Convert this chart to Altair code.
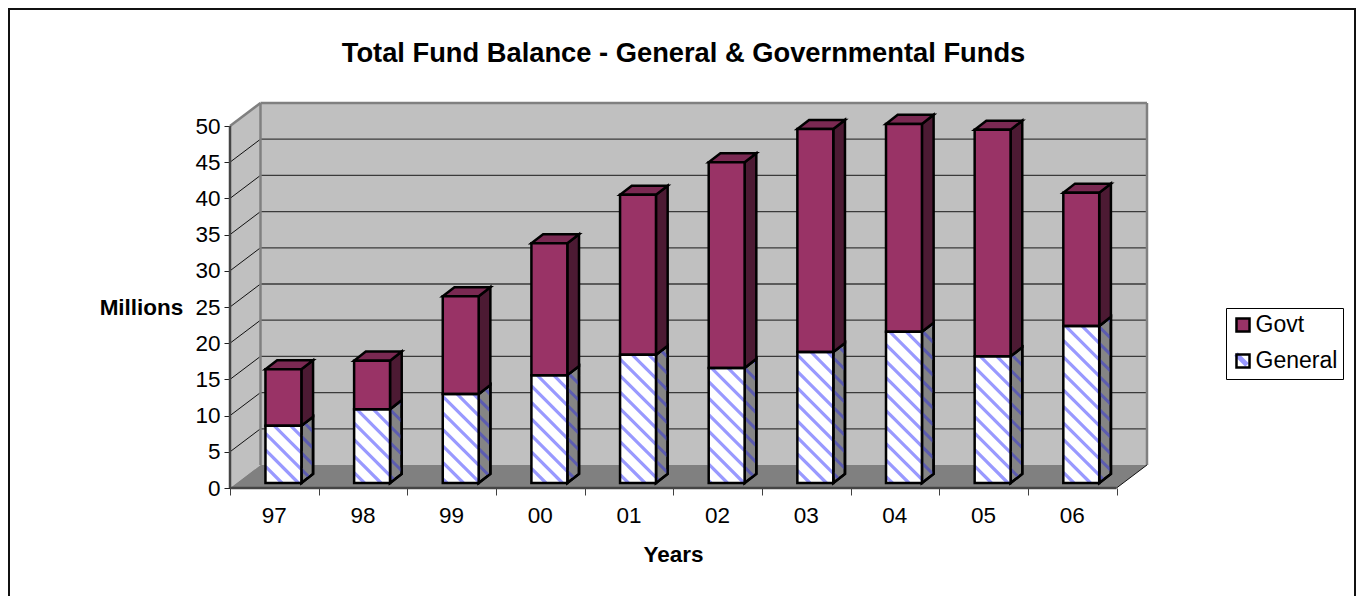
import altair as alt
import pandas as pd

years = ["97", "98", "99", "00", "01", "02", "03", "04", "05", "06"]
general = [7.9, 10.2, 12.3, 14.9, 17.7, 15.9, 18.1, 20.9, 17.5, 21.7]
govt = [7.8, 6.7, 13.5, 18.2, 22.1, 28.4, 30.8, 28.7, 31.3, 18.4]
y_ticks = [0, 5, 10, 15, 20, 25, 30, 35, 40, 45, 50]

FONT = "Liberation Sans"
C_GOVT, C_GOVT_TOP, C_GOVT_SIDE = "#993366", "#7a2952", "#4c1a33"
C_GEN_SIDE, C_HATCH, C_HATCH_SIDE = "#858585", "#9999ff", "#5c5cb0"
C_WALL, C_FLOOR, C_EDGE = "#c0c0c0", "#808080", "#808080"

# plot area in page pixels
PX0, PY0 = 230.0, 488.0
UX, UY = 88.65, 7.24
W, H = 917, 385
DEPTH_X, DEPTH_Y = 0.344, 3.18          # depth of the box (data units)
BAR_L, BAR_R, BAR_BASE = 0.40, 0.805, 0.69
BAR_DX, BAR_DY = 0.132, 1.25            # depth of a bar (data units)

xs = alt.Scale(domain=[0, W / UX], nice=False, zero=False)
ys = alt.Scale(domain=[0, H / UY], nice=False, zero=False)


def to_px(x, y):
    return PX0 + x * UX, PY0 - y * UY


def to_data(px, py):
    return (px - PX0) / UX, (PY0 - py) / UY


def enc_xy():
    return dict(x=alt.X("x:Q", scale=xs, axis=None), y=alt.Y("y:Q", scale=ys, axis=None))


def rules(segs, color, width):
    df = pd.DataFrame(segs, columns=["x", "y", "x2", "y2"])
    return alt.Chart(df).mark_rule(color=color, strokeWidth=width).encode(
        x2="x2:Q", y2="y2:Q", **enc_xy())


def areas(rows, fill, stroke=None, width=0):
    df = pd.DataFrame(rows, columns=["id", "x", "y", "y2"])
    kw = dict(fill=fill, opacity=1)
    if stroke:
        kw.update(stroke=stroke, strokeWidth=width, strokeJoin="miter")
    return alt.Chart(df).mark_area(**kw).encode(y2="y2:Q", detail="id:N", **enc_xy())


def side_rows(i, lo, hi):
    xr = i + BAR_R
    return [(f"{i}", xr, lo, hi), (f"{i}", xr + BAR_DX, lo + BAR_DY, hi + BAR_DY)]


def top_rows(i, t):
    xl, xr = i + BAR_L, i + BAR_R
    return [
        (f"{i}", xl, t, t),
        (f"{i}", xl + BAR_DX, t, t + BAR_DY),
        (f"{i}", xr, t, t + BAR_DY),
        (f"{i}", xr + BAR_DX, t + BAR_DY, t + BAR_DY),
    ]


def hatch(poly_data, period=16.5, phase=3.0):
    """Clip the lines py = px + c to a convex polygon; returns data-unit segments."""
    poly = [to_px(*p) for p in poly_data]
    cs = [py - px for px, py in poly]
    k0 = int((min(cs) - phase) // period)
    k1 = int((max(cs) - phase) // period) + 1
    out = []
    n = len(poly)
    for k in range(k0, k1 + 1):
        c = phase + k * period
        hits = []
        for a in range(n):
            (ax, ay), (bx, by) = poly[a], poly[(a + 1) % n]
            fa, fb = ay - ax - c, by - bx - c
            if fa == fb or fa * fb > 0:
                continue
            t = fa / (fa - fb)
            hits.append((ax + t * (bx - ax), ay + t * (by - ay)))
        if len(hits) >= 2:
            hits.sort()
            p, q = hits[0], hits[-1]
            if p != q:
                out.append((*to_data(*p), *to_data(*q)))
    return out


# ---- box -------------------------------------------------------------------
frame = alt.Chart(pd.DataFrame({"a": [0]})).mark_rect(
    fillOpacity=0, stroke="#111111", strokeWidth=2
).encode(
    x=alt.value(-221), x2=alt.value(1125), y=alt.value(-94), y2=alt.value(520)
)

top_v = y_ticks[-1]
base = alt.Chart(pd.DataFrame({"x": [DEPTH_X], "x2": [10 + DEPTH_X], "y": [DEPTH_Y], "y2": [top_v + DEPTH_Y]})).mark_rect(
    fill=C_WALL
).encode(
    x=alt.X(
        "x:Q", scale=xs,
        axis=alt.Axis(
            values=list(range(len(years) + 1)), labels=False, domain=False, grid=False,
            tickSize=7, tickColor="#404040", tickWidth=1, title="Years",
            titleFont=FONT, titleFontSize=22.5, titleFontWeight="bold", titleColor="black",
            titleX=673 - PX0, titleY=554 - PY0, titleBaseline="middle", titleAlign="center",
        ),
    ),
    x2="x2:Q",
    y=alt.Y(
        "y:Q", scale=ys,
        axis=alt.Axis(
            values=y_ticks, domain=False, grid=False, tickSize=6, tickColor="#202020", tickWidth=1,
            labelFont=FONT, labelFontSize=22.5, labelColor="black", labelPadding=4,
            title="Millions", titleAngle=0, titleFont=FONT, titleFontSize=22.5,
            titleFontWeight="bold", titleColor="black", titleX=141 - PX0, titleY=307 - 103,
            titleAlign="center", titleBaseline="middle",
        ),
    ),
    y2="y2:Q",
)

left_wall = areas([("w", 0, 0, top_v), ("w", DEPTH_X, DEPTH_Y, top_v + DEPTH_Y)], C_WALL)
floor = areas(
    [("f", 0, 0, 0), ("f", DEPTH_X, 0, DEPTH_Y), ("f", 10, 0, DEPTH_Y), ("f", 10 + DEPTH_X, DEPTH_Y, DEPTH_Y)],
    C_FLOOR,
)
grid_back = rules([(DEPTH_X, v + DEPTH_Y, 10 + DEPTH_X, v + DEPTH_Y) for v in y_ticks[1:-1]], "#3a3a3a", 1.3)
grid_left = rules([(0, v, DEPTH_X, v + DEPTH_Y) for v in y_ticks[1:-1]], "#111111", 1)
edges = rules(
    [
        (DEPTH_X, DEPTH_Y, DEPTH_X, top_v + DEPTH_Y),
        (DEPTH_X, top_v + DEPTH_Y, 10 + DEPTH_X, top_v + DEPTH_Y),
        (10 + DEPTH_X, DEPTH_Y, 10 + DEPTH_X, top_v + DEPTH_Y),
        (0, top_v, DEPTH_X, top_v + DEPTH_Y),
    ],
    C_EDGE, 2.5,
)
front_edges = rules([(0, 0, 0, top_v), (0, 0, 10, 0)], "#454545", 2.5)
right_floor = rules([(10, 0, 10 + DEPTH_X, DEPTH_Y)], "#111111", 1)

cat_df = pd.DataFrame({"x": [i + 0.5 for i in range(len(years))], "y": [0] * len(years), "t": years})
cat_labels = alt.Chart(cat_df).mark_text(
    font=FONT, fontSize=22.5, color="black", dy=28
).encode(text="t:N", **enc_xy())

# ---- bars ------------------------------------------------------------------
n = len(years)
bar_rows = []
for i in range(n):
    g0, g1 = BAR_BASE, BAR_BASE + general[i]
    t1 = g1 + govt[i]
    bar_rows.append(dict(x=i + BAR_L, x2=i + BAR_R, y=g0, y2=g1, series="General"))
    bar_rows.append(dict(x=i + BAR_L, x2=i + BAR_R, y=g1, y2=t1, series="Govt"))
bars_df = pd.DataFrame(bar_rows)

white_under = alt.Chart(bars_df[bars_df.series == "General"]).mark_rect(fill="white").encode(
    x2="x2:Q", y2="y2:Q", **enc_xy()
)
fronts = alt.Chart(bars_df).mark_rect().encode(
    x2="x2:Q", y2="y2:Q",
    color=alt.Color(
        "series:N",
        scale=alt.Scale(domain=["Govt", "General"], range=[C_GOVT, "transparent"]),
        legend=alt.Legend(
            title=None, orient="none", legendX=1226 - PX0, legendY=308 - 103,
            strokeColor="black", padding=5.5, symbolType="square",
            symbolSize=170, symbolStrokeColor="black", symbolStrokeWidth=2.5,
            labelFont=FONT, labelFontSize=23, labelColor="black", labelOffset=1,
            rowPadding=11,
        ),
    ),
    **enc_xy(),
)
outlines = alt.Chart(bars_df).mark_rect(fillOpacity=0, stroke="black", strokeWidth=2.5).encode(
    x2="x2:Q", y2="y2:Q", **enc_xy()
)

gen_side, gov_side, gov_top = [], [], []
front_h, side_h = [], []
for i in range(n):
    g0, g1 = BAR_BASE, BAR_BASE + general[i]
    t1 = g1 + govt[i]
    gen_side += side_rows(i, g0, g1)
    gov_side += side_rows(i, g1, t1)
    gov_top += top_rows(i, t1)
    xl, xr = i + BAR_L, i + BAR_R
    front_h += hatch([(xl, g0), (xr, g0), (xr, g1), (xl, g1)])
    side_h += hatch([(xr, g0), (xr + BAR_DX, g0 + BAR_DY), (xr + BAR_DX, g1 + BAR_DY), (xr, g1)])

swatch = alt.Chart(pd.DataFrame({"a": [0]})).mark_rule(color=C_HATCH, strokeWidth=5).encode(
    x=alt.value(1236 - PX0), x2=alt.value(1247 - PX0), y=alt.value(354 - 103), y2=alt.value(365 - 103)
)

layers = [
    base, left_wall, floor, grid_back, grid_left, edges, front_edges, right_floor, cat_labels,
    areas(gen_side, C_GEN_SIDE, "black", 2.5),
    rules(side_h, C_HATCH_SIDE, 3),
    areas(gen_side, "transparent", "black", 2.5),
    areas(gov_side, C_GOVT_SIDE, "black", 2.5),
    areas(gov_top, C_GOVT_TOP, "black", 2.5),
    white_under,
    fronts,
    rules(front_h, C_HATCH, 3.2),
    outlines,
    swatch,
    frame,
]

chart = alt.layer(*layers).resolve_axis(x="independent", y="independent").properties(
    width=W, height=H,
    autosize=alt.AutoSizeParams(type="none"),
    padding={"left": 222, "top": 95, "right": 209, "bottom": 108},
    background="white",
    title=alt.TitleParams(
        "Total Fund Balance - General & Governmental Funds",
        font=FONT, fontSize=27.3, fontWeight="bold", color="black", anchor="middle", offset=0, dy=59, dx=-5,
    ),
).configure_view(strokeWidth=0)

chart.save("out.html", embed_options={"renderer": "svg", "actions": False})
